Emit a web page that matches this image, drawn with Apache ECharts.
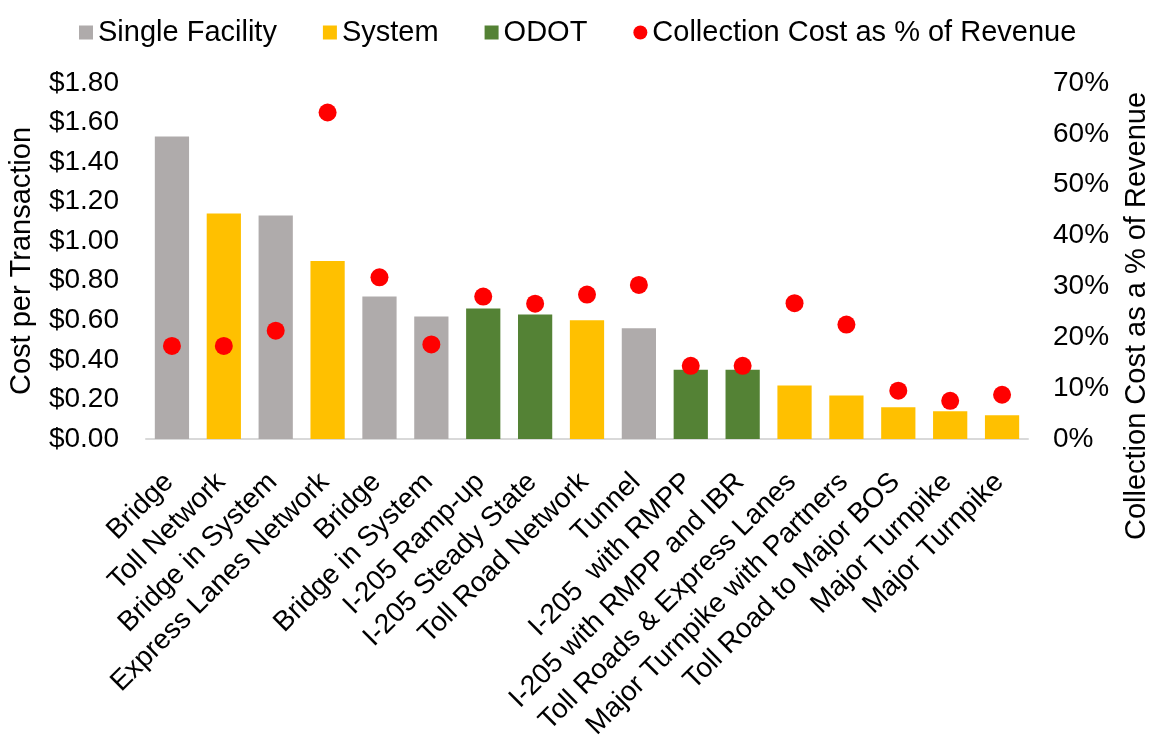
<!DOCTYPE html>
<html>
<head>
<meta charset="utf-8">
<script src="https://cdn.jsdelivr.net/npm/echarts@6/dist/echarts.min.js"></script>
<style>
html,body{margin:0;padding:0;background:#fff;}
#chart{width:1151px;height:738px;}
</style>
</head>
<body>
<div id="chart"></div>
<script>
var categories = ['Bridge','Toll Network','Bridge in System','Express Lanes Network','Bridge','Bridge in System','I-205 Ramp-up','I-205 Steady State','Toll Road Network','Tunnel','I-205  with RMPP','I-205 with RMPP and IBR','Toll Roads & Express Lanes','Major Turnpike with Partners','Toll Road to Major BOS','Major Turnpike','Major Turnpike'];
var singleFacility = [1.53, null, 1.13, null, 0.72, 0.62, null, null, null, 0.56, null, null, null, null, null, null, null];
var system = [null, 1.14, null, 0.90, null, null, null, null, 0.60, null, null, null, 0.27, 0.22, 0.16, 0.14, 0.12];
var odot = [null, null, null, null, null, null, 0.66, 0.63, null, null, 0.35, 0.35, null, null, null, null, null];
var collectionPct = [18.3, 18.3, 21.3, 64.2, 31.8, 18.6, 28.0, 26.6, 28.4, 30.3, 14.4, 14.4, 26.7, 22.5, 9.5, 7.5, 8.7];
var leftTicks = {min: 0, max: 1.8, interval: 0.2};
var rightTicks = {min: 0, max: 70, interval: 10};

var FONT = 'Liberation Sans, Arial, sans-serif';
var chart = echarts.init(document.getElementById('chart'));
function barSeries(name, data, color) {
  return {
    name: name, type: 'bar', stack: 'all', data: data, barWidth: '66%',
    itemStyle: {color: color}
  };
}
chart.setOption({
  animation: false,
  textStyle: {fontFamily: FONT},
  legend: {
    top: 13, left: 74,
    itemWidth: 14, itemHeight: 14, itemGap: 46,
    textStyle: {fontSize: 29, color: '#000', fontFamily: FONT},
    data: [
      {name: 'Single Facility', icon: 'rect'},
      {name: 'System', icon: 'rect'},
      {name: 'ODOT', icon: 'rect'},
      {name: 'Collection Cost as % of Revenue', icon: 'circle'}
    ]
  },
  grid: {left: 146, right: 123, top: 83, bottom: 299, outerBoundsMode: 'none', containLabel: false},
  xAxis: {
    type: 'category', data: categories,
    axisLine: {lineStyle: {color: '#D9D9D9', width: 2}},
    axisTick: {show: false},
    axisLabel: {rotate: 45, interval: 0, fontSize: 28, color: '#000', margin: 36, fontFamily: FONT,
      padding: [0, 4, 0, 0]}
  },
  yAxis: [
    {
      type: 'value', min: leftTicks.min, max: leftTicks.max, interval: leftTicks.interval,
      name: 'Cost per Transaction', nameLocation: 'middle', nameGap: 124, nameRotate: 90,
      nameMoveOverlap: false,
      nameTextStyle: {fontSize: 29, color: '#000', fontFamily: FONT, verticalAlign: 'middle'},
      axisLine: {show: false}, axisTick: {show: false}, splitLine: {show: false},
      axisLabel: {fontSize: 28, color: '#000', margin: 27, fontFamily: FONT,
        formatter: function (v) { return '$' + v.toFixed(2); }}
    },
    {
      type: 'value', min: rightTicks.min, max: rightTicks.max, interval: rightTicks.interval,
      name: 'Collection Cost as a % of Revenue', nameLocation: 'middle', nameGap: 109, nameRotate: 90,
      nameMoveOverlap: false,
      nameTextStyle: {fontSize: 29, color: '#000', fontFamily: FONT, verticalAlign: 'middle', padding: [0, 110, 0, 0]},
      axisLine: {show: false}, axisTick: {show: false}, splitLine: {show: false},
      axisLabel: {fontSize: 28, color: '#000', margin: 25, fontFamily: FONT,
        formatter: '{value}%'}
    }
  ],
  series: [
    barSeries('Single Facility', singleFacility, '#AFABAB'),
    barSeries('System', system, '#FFC000'),
    barSeries('ODOT', odot, '#548235'),
    {
      name: 'Collection Cost as % of Revenue', type: 'scatter', yAxisIndex: 1,
      data: collectionPct, symbol: 'circle', symbolSize: 18,
      itemStyle: {color: '#FF0000', opacity: 1}, z: 5
    }
  ]
});
</script>
</body>
</html>
